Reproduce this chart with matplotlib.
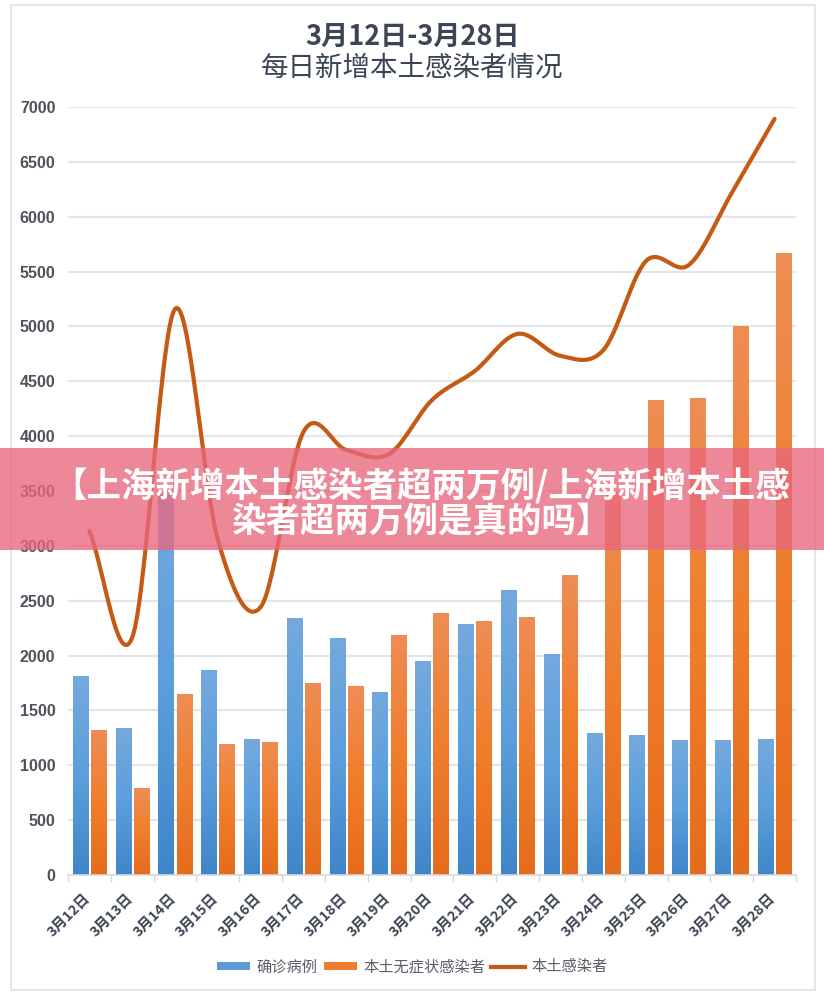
import matplotlib
matplotlib.use("Agg")
import matplotlib.pyplot as plt
import numpy as np
from matplotlib.patches import Rectangle
from matplotlib.lines import Line2D
from matplotlib.colors import LinearSegmentedColormap

plt.rcParams['font.family'] = ['Noto Sans CJK SC', 'DejaVu Sans']

dates = ["3月12日", "3月13日", "3月14日", "3月15日", "3月16日", "3月17日", "3月18日",
         "3月19日", "3月20日", "3月21日", "3月22日", "3月23日", "3月24日", "3月25日",
         "3月26日", "3月27日", "3月28日"]
confirmed = [1807, 1338, 3507, 1860, 1231, 2334, 2160, 1659, 1950, 2279, 2589, 2006,
             1294, 1276, 1222, 1222, 1231]
asymptomatic = [1315, 784, 1647, 1194, 1212, 1741, 1714, 2179, 2379, 2315, 2343, 2726,
                3490, 4321, 4339, 4995, 5661]
local_total = [3136, 2165, 5160, 3054, 2443, 4040, 3874, 3838, 4329, 4594, 4932, 4732,
               4784, 5597, 5561, 6217, 6892]
y_ticks = list(range(0, 7001, 500))

fig = plt.figure(figsize=(8.24, 10), dpi=100)
ax = fig.add_axes([68/824, 0.125, 728/824, 0.768])

x = np.arange(len(dates))
bw = 0.355
gap = 0.07
blue_cmap = LinearSegmentedColormap.from_list("b", ["#3f86c8", "#5b9fdc", "#74a9de"])
orange_cmap = LinearSegmentedColormap.from_list("o", ["#e56c1c", "#f07e2c", "#ee8d55"])
grad = np.linspace(0, 1, 256).reshape(-1, 1)

for xi, c, a in zip(x, confirmed, asymptomatic):
    x0 = xi - gap/2 - bw
    ax.imshow(grad, cmap=blue_cmap, origin='lower', aspect='auto',
              extent=[x0, x0 + bw, 0, c], zorder=2, interpolation='bilinear')
    x1 = xi + gap/2
    ax.imshow(grad, cmap=orange_cmap, origin='lower', aspect='auto',
              extent=[x1, x1 + bw, 0, a], zorder=2, interpolation='bilinear')

# Smooth line (Catmull-Rom through the data points)
def catmull_rom(xs, ys, n=30):
    px = np.concatenate([[2*xs[0]-xs[1]], xs, [2*xs[-1]-xs[-2]]]).astype(float)
    py = np.concatenate([[2*ys[0]-ys[1]], ys, [2*ys[-1]-ys[-2]]]).astype(float)
    outx, outy = [], []
    for i in range(1, len(px)-2):
        t = np.linspace(0, 1, n, endpoint=False)
        for arr, out in ((px, outx), (py, outy)):
            p0, p1, p2, p3 = arr[i-1], arr[i], arr[i+1], arr[i+2]
            out.extend(0.5*((2*p1) + (-p0+p2)*t + (2*p0-5*p1+4*p2-p3)*t**2 + (-p0+3*p1-3*p2+p3)*t**3))
    outx.append(px[-2]); outy.append(py[-2])
    return np.array(outx), np.array(outy)

sx, sy = catmull_rom(x, np.array(local_total))
ax.plot(sx, sy, color="#c45a14", lw=3, zorder=3, solid_capstyle='round')

ax.set_xlim(-0.5, len(dates)-0.5)
ax.set_ylim(0, 7000)
ax.set_yticks(y_ticks)
ax.set_yticklabels([str(v) for v in y_ticks], fontsize=11.5, fontweight='bold',
                   color='#4d525c', family=['Liberation Sans', 'DejaVu Sans'])
ax.yaxis.grid(True, color='#e2e5eb', lw=1.5, zorder=0)
ax.set_axisbelow(True)
ax.tick_params(axis='y', length=0, pad=9)

# category labels (label anchor sits slightly left of the category centre)
ax.set_xticks(x - 0.15)
ax.set_xticklabels(dates, rotation=45, ha='right', va='top', rotation_mode='anchor',
                   fontsize=10.3, fontweight='bold', color='#3d4555')
ax.set_xticks(np.arange(-0.5, len(dates), 1), minor=True)
ax.tick_params(axis='x', which='major', length=0, pad=12)
ax.tick_params(axis='x', which='minor', length=5, color='#d5d9df', width=1)
for s in ['top', 'right', 'left']:
    ax.spines[s].set_visible(False)
ax.spines['bottom'].set_color('#d5d9df')
ax.spines['bottom'].set_linewidth(1.2)

# Frame
fig.patches.append(Rectangle((11/824, 10/1000), 804/824, 985/1000, transform=fig.transFigure,
                             fill=False, edgecolor='#dde0e6', lw=1.2))

# Title
fig.text(0.5, 1-37/1000, "3月12日-3月28日", ha='center', va='center', fontsize=19.5,
         fontweight='bold', color='#3b4556')
fig.text(0.5, 1-68/1000, "每日新增本土感染者情况", ha='center', va='center', fontsize=19.8,
         color='#3b4556')

# Legend
handles = [Rectangle((0, 0), 1, 1, facecolor='#5b9bd5'),
           Rectangle((0, 0), 1, 1, facecolor='#ed7d31'),
           Line2D([0], [0], color='#c45a14', lw=3)]
leg = fig.legend(handles, ["确诊病例", "本土无症状感染者", "本土感染者"], loc='center',
                 bbox_to_anchor=(0.5, 1-967/1000), ncol=3, frameon=False, fontsize=11,
                 handlelength=2.2, handleheight=0.45, handletextpad=0.4, columnspacing=0.4)
for t in leg.get_texts():
    t.set_color('#5a5f68')

# Banner overlay
fig.patches.append(Rectangle((0, 1-550/1000), 1, 102/1000, transform=fig.transFigure,
                             facecolor='#e8677d', alpha=0.78, edgecolor='none', zorder=10))
fig.text(0.5 + 9/824, 1-486/1000, "【上海新增本土感染者超两万例/上海新增本土感", ha='center',
         va='center', fontsize=24.8, fontweight='bold', color='white', zorder=11)
fig.text(0.5 + 9/824, 1-521/1000, "染者超两万例是真的吗】", ha='center', va='center',
         fontsize=24.8, fontweight='bold', color='white', zorder=11)

fig.savefig("out.png", dpi=100)
